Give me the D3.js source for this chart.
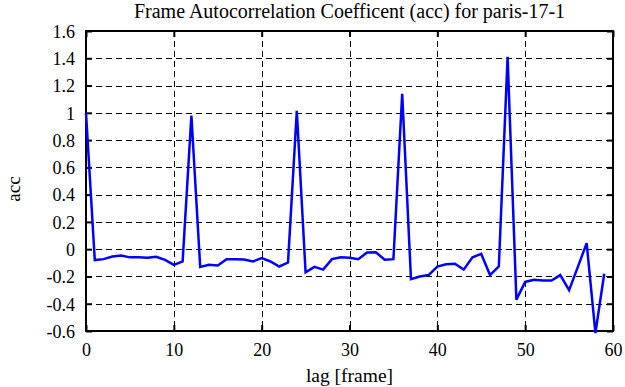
<!DOCTYPE html>
<html>
<head>
<meta charset="utf-8">
<script src="https://cdn.jsdelivr.net/npm/d3@7"></script>
<style>
  body { margin: 0; background: #fff; }
  svg text { font-family: "Liberation Serif", "DejaVu Serif", serif !important; fill: #000; }
</style>
</head>
<body>
<div id="chart"></div>
<script>
// lag 0..59, autocorrelation values
var lags = d3.range(0, 60);
var acc = [1.0, -0.08, -0.073, -0.054, -0.047, -0.06, -0.06, -0.063, -0.056, -0.078,
  -0.115, -0.09, 0.98, -0.13, -0.115, -0.12, -0.073, -0.073, -0.075, -0.09,
  -0.066, -0.09, -0.127, -0.098, 1.015, -0.17, -0.13, -0.15, -0.073, -0.06,
  -0.063, -0.073, -0.024, -0.022, -0.078, -0.073, 1.14, -0.22, -0.2, -0.19,
  -0.127, -0.11, -0.107, -0.15, -0.06, -0.035, -0.19, -0.127, 1.41, -0.37,
  -0.24, -0.225, -0.23, -0.23, -0.19, -0.3, -0.13, 0.044, -0.615, -0.18];
var xTicks = [0, 10, 20, 30, 40, 50, 60];
var yTicks = [-0.6, -0.4, -0.2, 0, 0.2, 0.4, 0.6, 0.8, 1, 1.2, 1.4, 1.6];

var width = 625, height = 387;
var margin = {left: 86, right: 12, top: 31, bottom: 56};
var serif = '"Liberation Serif", serif';

var x = d3.scaleLinear().domain([0, 60]).range([margin.left, width - margin.right]);
var y = d3.scaleLinear().domain([-0.6, 1.6]).range([height - margin.bottom, margin.top]);

var svg = d3.select('#chart').append('svg')
  .attr('width', width)
  .attr('height', height)
  .attr('font-family', serif);

// grid
var grid = svg.append('g')
  .attr('stroke', '#000')
  .attr('stroke-width', 1)
  .attr('stroke-dasharray', '6,4');
grid.selectAll('.gx')
  .data(xTicks.slice(1, -1))
  .enter().append('line')
  .attr('x1', function(d) { return Math.round(x(d)) + 0.5; })
  .attr('x2', function(d) { return Math.round(x(d)) + 0.5; })
  .attr('y1', y(1.6)).attr('y2', y(-0.6));
grid.selectAll('.gy')
  .data(yTicks.slice(1, -1))
  .enter().append('line')
  .attr('y1', function(d) { return Math.round(y(d)) + 0.5; })
  .attr('y2', function(d) { return Math.round(y(d)) + 0.5; })
  .attr('x1', x(0)).attr('x2', x(60));

// axes, ticks pointing inward
var tickLen = 6;
var xAxis = d3.axisBottom(x).tickValues(xTicks).tickSize(-tickLen).tickPadding(12)
  .tickFormat(d3.format('d'));
var yAxis = d3.axisLeft(y).tickValues(yTicks).tickSize(-tickLen).tickPadding(11)
  .tickFormat(function(d) { return String(+d.toFixed(1)); });

var gx = svg.append('g').attr('transform', 'translate(0,' + y(-0.6) + ')').call(xAxis);
var gxTop = svg.append('g').attr('transform', 'translate(0,' + y(1.6) + ')')
  .call(d3.axisTop(x).tickValues(xTicks).tickSize(-tickLen).tickFormat(''));
var gy = svg.append('g').attr('transform', 'translate(' + x(0) + ',0)').call(yAxis);
var gyRight = svg.append('g').attr('transform', 'translate(' + x(60) + ',0)')
  .call(d3.axisRight(y).tickValues(yTicks).tickSize(-tickLen).tickFormat(''));

[gx, gxTop, gy, gyRight].forEach(function(g) {
  g.attr('font-family', serif).attr('font-size', 18);
  g.select('.domain').remove();
  g.selectAll('line').attr('stroke', '#000').attr('stroke-width', 2);
  g.selectAll('text').attr('fill', '#000');
});
gy.selectAll('text').attr('dy', '0.35em');

// frame
svg.append('rect')
  .attr('x', x(0)).attr('y', y(1.6))
  .attr('width', x(60) - x(0)).attr('height', y(-0.6) - y(1.6))
  .attr('fill', 'none').attr('stroke', '#000').attr('stroke-width', 2);

// data line
var line = d3.line()
  .x(function(d, i) { return x(lags[i]); })
  .y(function(d) { return y(d); });
svg.append('path')
  .datum(acc)
  .attr('d', line)
  .attr('fill', 'none')
  .attr('stroke', '#0000ff')
  .attr('stroke-width', 2.5)
  .attr('stroke-linejoin', 'miter');

// labels
svg.append('text')
  .attr('x', (x(0) + x(60)) / 2).attr('y', 18)
  .attr('text-anchor', 'middle').attr('font-size', 20)
  .text('Frame Autocorrelation Coefficent (acc) for paris-17-1');
svg.append('text')
  .attr('x', (x(0) + x(60)) / 2).attr('y', 382)
  .attr('text-anchor', 'middle').attr('font-size', 19.5)
  .text('lag [frame]');
svg.append('text')
  .attr('transform', 'translate(20,189) rotate(-90)')
  .attr('text-anchor', 'middle').attr('font-size', 19)
  .text('acc');
</script>
</body>
</html>
